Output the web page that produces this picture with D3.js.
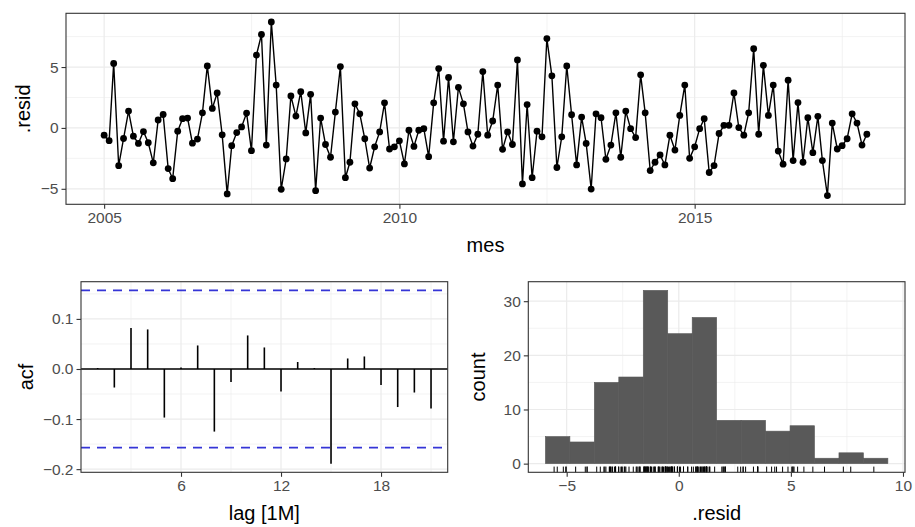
<!DOCTYPE html>
<html><head><meta charset="utf-8">
<script src="https://cdn.jsdelivr.net/npm/d3@7"></script>
<style>
body{margin:0;background:#fff}
svg{display:block}
text{font-family:"Liberation Sans",Arial,Helvetica,sans-serif}
</style>
</head><body>
<svg id="c" width="915" height="527"></svg>
<script>
// ---------------- DATA ----------------
const startMonth = "2005-01";
const endMonth = "2017-12";
const resid = [
 -0.6,-1.05,5.3,-3.1,-0.87,1.38,-0.68,-1.27,-0.3,-1.22,-2.87,0.65,
 1.1,-3.34,-4.17,-0.27,0.76,0.81,-1.25,-0.92,1.24,5.09,1.6,2.87,
 -0.57,-5.42,-1.46,-0.38,0.08,1.22,-1.87,5.98,7.67,-1.41,8.7,3.52,
 -5.04,-2.55,2.63,0.97,2.98,-0.41,2.76,-5.15,0.81,-1.36,-2.41,1.3,
 5.04,-4.09,-2.82,1.98,1.16,-0.89,-3.3,-1.55,-0.33,2.06,-1.73,-1.55,
 -1.06,-2.96,-0.19,-1.52,-0.19,-0.06,-2.36,2.06,4.87,-1.09,4.14,-1.14,
 3.33,1.98,-0.33,-1.49,-0.52,4.63,-0.6,0.57,3.52,-1.76,-0.33,-1.36,
 5.58,-4.6,1.92,-4.09,-0.27,-0.73,7.34,4.28,-3.25,-0.73,5.09,1.08,
 -3.04,0.89,-1.27,-5.02,1.16,0.84,-2.58,-1.41,1.24,-2.41,1.38,-0.06,
 -0.79,4.36,1.24,-3.5,-2.82,-2.22,-3.04,-0.6,-1.82,1.03,3.52,-2.5,
 -1.55,-0.06,0.76,-3.66,-3.09,-0.46,0.21,0.21,2.87,0.03,-0.6,1.24,
 6.5,-0.52,5.14,1.03,3.52,-1.9,-2.98,3.92,-2.68,2.08,-2.82,0.84,
 -2.03,0.95,-2.68,-5.56,0.4,-1.73,-1.46,-0.89,1.16,0.4,-1.41,-0.52
];
const topXTicks = ["2005-01-01","2010-01-01","2015-01-01"];
const topXMinor = ["2007-07-02","2012-07-02","2017-07-02"];
const topYTicks = [-5,0,5];
const topYMinor = [-2.5,2.5,7.5];

const acfLags = [1,2,3,4,5,6,7,8,9,10,11,12,13,14,15,16,17,18,19,20,21];
const acfValues = [0.002,-0.037,0.082,0.079,-0.097,0.003,0.047,-0.125,-0.026,0.067,0.043,
 -0.045,0.014,0.002,-0.189,0.021,0.025,-0.032,-0.076,-0.047,-0.079];
const acfCI = 0.157;
const acfXTicks = [6,12,18];
const acfXMinor = [3,9,15,21];
const acfYTicks = [-0.2,-0.1,0,0.1];
const acfYMinor = [-0.15,-0.05,0.05,0.15];

const binEdges = [-5.948,-4.857,-3.766,-2.675,-1.584,-0.493,0.598,1.689,2.78,3.871,4.962,6.053,7.144,8.235,9.326];
const binCounts = [5,4,15,16,32,24,27,8,8,6,7,1,2,1];
const histXTicks = [-5,0,5,10];
const histXMinor = [-2.5,2.5,7.5];
const histYTicks = [0,10,20,30];
const histYMinor = [5,15,25];

// ---------------- STYLE ----------------
const TICK_FS = 15.5, TITLE_FS = 20;
const GRID = "#ebebeb", BORDER = "#333333", TICKTXT = "#4d4d4d";

const svg = d3.select("#c");
svg.append("rect").attr("width",915).attr("height",527).attr("fill","#fff");

function expand(lo, hi, f=0.05){ const d=(hi-lo)*f; return [lo-d, hi+d]; }

function panel(o){
  const g = svg.append("g");
  const [x0,x1] = o.x.range(), [y0,y1] = o.y.range(); // y0 bottom, y1 top
  g.selectAll(null).data(o.xMinor).join("line")
    .attr("x1",d=>o.x(d)).attr("x2",d=>o.x(d)).attr("y1",y0).attr("y2",y1)
    .attr("stroke",GRID).attr("stroke-width",0.6);
  g.selectAll(null).data(o.yMinor).join("line")
    .attr("y1",d=>o.y(d)).attr("y2",d=>o.y(d)).attr("x1",x0).attr("x2",x1)
    .attr("stroke",GRID).attr("stroke-width",0.6);
  g.selectAll(null).data(o.xTicks).join("line")
    .attr("x1",d=>o.x(d)).attr("x2",d=>o.x(d)).attr("y1",y0).attr("y2",y1)
    .attr("stroke",GRID).attr("stroke-width",1.2);
  g.selectAll(null).data(o.yTicks).join("line")
    .attr("y1",d=>o.y(d)).attr("y2",d=>o.y(d)).attr("x1",x0).attr("x2",x1)
    .attr("stroke",GRID).attr("stroke-width",1.2);
  const data = svg.append("g");
  o.draw(data);
  const top = svg.append("g");
  top.append("rect").attr("x",x0).attr("y",y1).attr("width",x1-x0).attr("height",y0-y1)
    .attr("fill","none").attr("stroke",BORDER).attr("stroke-width",1.1);
  const xa = top.append("g").attr("transform",`translate(0,${y0})`)
    .call(d3.axisBottom(o.x).tickValues(o.xTicks).tickFormat(o.xFmt).tickSize(4.5).tickPadding(3));
  const ya = top.append("g").attr("transform",`translate(${x0},0)`)
    .call(d3.axisLeft(o.y).tickValues(o.yTicks).tickFormat(o.yFmt).tickSize(4.5).tickPadding(3));
  [xa,ya].forEach(a=>{
    a.select(".domain").remove();
    a.selectAll(".tick line").attr("stroke",BORDER).attr("stroke-width",1.1);
    a.selectAll(".tick text").attr("fill",TICKTXT).style("font-size",TICK_FS+"px")
      .style("font-family",'"Liberation Sans",Arial,sans-serif');
  });
  top.append("text").attr("x",(x0+x1)/2).attr("y",o.xTitleY).attr("text-anchor","middle")
    .style("font-size",TITLE_FS+"px").attr("fill","#000").text(o.xTitle);
  top.append("text").attr("transform",`translate(${o.yTitleX},${(y0+y1)/2}) rotate(-90)`)
    .attr("text-anchor","middle").style("font-size",TITLE_FS+"px").attr("fill","#000").text(o.yTitle);
}

// ---------------- TOP: residual time series ----------------
const parseM = d3.utcParse("%Y-%m");
const months = d3.utcMonth.range(parseM(startMonth), d3.utcMonth.offset(parseM(endMonth),1));
const series = months.map((d,i)=>({d, v: resid[i]}));
const tSpan = months[months.length-1] - months[0];
const xT = d3.scaleUtc()
  .domain([new Date(+months[0]-0.05*tSpan), new Date(+months[months.length-1]+0.05*tSpan)])
  .range([66,905]);
const yT = d3.scaleLinear().domain(expand(d3.min(resid), d3.max(resid))).range([204.3,13.3]);
const isoP = d3.utcParse("%Y-%m-%d");
panel({
  x:xT, y:yT,
  xTicks: topXTicks.map(isoP), xMinor: topXMinor.map(isoP),
  yTicks: topYTicks, yMinor: topYMinor,
  xFmt: d3.utcFormat("%Y"), yFmt: d3.format("d"),
  xTitle:"mes", xTitleY:252, yTitle:".resid", yTitleX:30,
  draw: g=>{
    g.append("path").datum(series)
      .attr("d", d3.line().x(d=>xT(d.d)).y(d=>yT(d.v)))
      .attr("fill","none").attr("stroke","#000").attr("stroke-width",1.4);
    g.selectAll(null).data(series).join("circle")
      .attr("cx",d=>xT(d.d)).attr("cy",d=>yT(d.v)).attr("r",3.4).attr("fill","#000");
  }
});

// ---------------- ACF ----------------
const xA = d3.scaleLinear().domain([0,22]).range([81,447.7]);
const yA = d3.scaleLinear()
  .domain(expand(Math.min(d3.min(acfValues),-acfCI), Math.max(d3.max(acfValues),acfCI)))
  .range([472.3,281.7]);
panel({
  x:xA, y:yA, xTicks:acfXTicks, xMinor:acfXMinor, yTicks:acfYTicks, yMinor:acfYMinor,
  xFmt:d3.format("d"), yFmt:d3.format(".1f"),
  xTitle:"lag [1M]", xTitleY:520, yTitle:"acf", yTitleX:33,
  draw: g=>{
    g.append("line").attr("x1",81).attr("x2",447.7).attr("y1",yA(0)).attr("y2",yA(0))
      .attr("stroke","#000").attr("stroke-width",1.3);
    g.selectAll(null).data(acfLags).join("line")
      .attr("x1",d=>xA(d)).attr("x2",d=>xA(d))
      .attr("y1",yA(0)).attr("y2",(d,i)=>yA(acfValues[i]))
      .attr("stroke","#000").attr("stroke-width",1.6);
    g.selectAll(null).data([acfCI,-acfCI]).join("line")
      .attr("x1",81).attr("x2",447.7).attr("y1",d=>yA(d)).attr("y2",d=>yA(d))
      .attr("stroke","#3535d6").attr("stroke-width",1.7).attr("stroke-dasharray","9,7");
  }
});

// ---------------- HISTOGRAM ----------------
const xH = d3.scaleLinear().domain(expand(binEdges[0], binEdges[binEdges.length-1])).range([528.3,905]);
const yH = d3.scaleLinear().domain(expand(0, d3.max(binCounts))).range([472.3,281.7]);
panel({
  x:xH, y:yH, xTicks:histXTicks, xMinor:histXMinor, yTicks:histYTicks, yMinor:histYMinor,
  xFmt:d3.format("d"), yFmt:d3.format("d"),
  xTitle:".resid", xTitleY:520, yTitle:"count", yTitleX:485,
  draw: g=>{
    g.selectAll(null).data(binCounts).join("rect")
      .attr("x",(d,i)=>xH(binEdges[i]))
      .attr("width",(d,i)=>xH(binEdges[i+1])-xH(binEdges[i]))
      .attr("y",d=>yH(d)).attr("height",d=>yH(0)-yH(d))
      .attr("fill","#595959").attr("stroke","#595959").attr("stroke-width",0.6);
    g.selectAll(null).data(resid).join("line")
      .attr("x1",d=>xH(d)).attr("x2",d=>xH(d)).attr("y1",472.3).attr("y2",472.3-5.7)
      .attr("stroke","#000").attr("stroke-width",1);
  }
});
</script>
</body></html>
